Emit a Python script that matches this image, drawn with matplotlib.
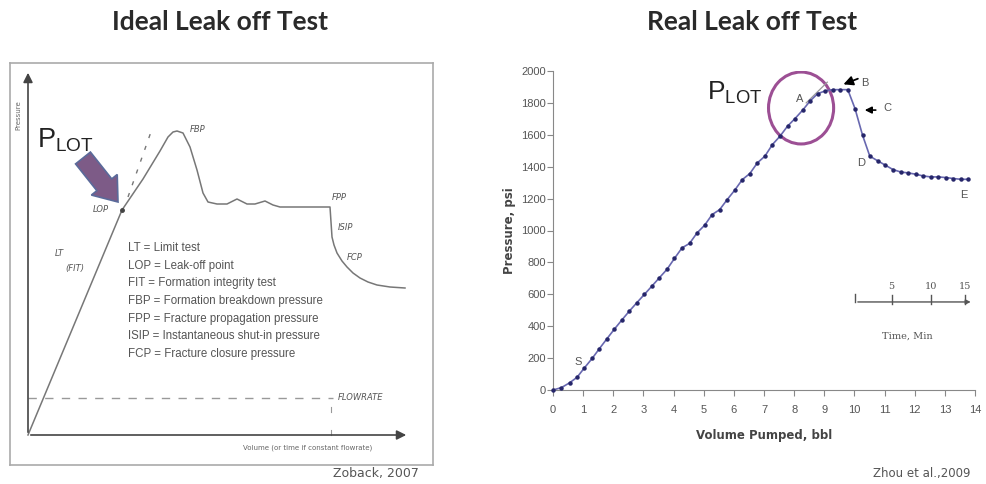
import matplotlib.pyplot as plt
from matplotlib.patches import Ellipse, FancyArrow

# ---- ideal (schematic) test, arbitrary units ----
ideal_vol = [0, 94, 115, 132, 140, 145, 149, 155, 162, 169, 175, 180, 189, 199, 209, 219,
             227, 237, 245, 252, 302, 304, 306, 309, 314, 319, 325, 332, 340, 349, 362, 377]
ideal_p = [0, 225, 256, 284, 298, 303, 304, 302, 288, 265, 242, 233, 231, 231, 236, 231,
           231, 234, 230, 228, 228, 198, 190, 182, 174, 168, 162, 157, 153, 150, 148, 147]
tangent_vol = [100, 124]
tangent_p = [238, 306]
flow_vol = [0, 305]
flow_p = [37, 37]
lop = (94, 225)

legend_lines = ["LT = Limit test",
                "LOP = Leak-off point",
                "FIT = Formation integrity test",
                "FBP = Formation breakdown pressure",
                "FPP = Fracture propagation pressure",
                "ISIP = Instantaneous shut-in pressure",
                "FCP = Fracture closure pressure"]

# ---- real test (Zhou et al., 2009) ----
vol = [0, 0.28, 0.55, 0.8, 1.03, 1.3, 1.53, 1.78, 2.03, 2.28, 2.53, 2.78, 3.03, 3.28,
       3.53, 3.78, 4.03, 4.28, 4.53, 4.78, 5.03, 5.28, 5.53, 5.78, 6.03, 6.28, 6.53,
       6.78, 7.03, 7.28, 7.53, 7.78, 8.03, 8.28, 8.53, 8.78, 9.03, 9.28, 9.53, 9.78,
       10.02, 10.27, 10.51, 10.78, 11.03, 11.28, 11.53, 11.78, 12.03, 12.28, 12.53,
       12.78, 13.03, 13.28, 13.53, 13.78]
pressure = [0, 15, 45, 80, 136, 198, 257, 319, 380, 438, 494, 547, 599, 651, 704, 756,
            825, 891, 919, 985, 1033, 1100, 1131, 1194, 1253, 1319, 1357, 1424, 1466,
            1539, 1591, 1654, 1702, 1754, 1812, 1858, 1875, 1883, 1883, 1883, 1764,
            1597, 1466, 1436, 1409, 1382, 1367, 1361, 1353, 1342, 1336, 1336, 1332,
            1326, 1321, 1321]
tan_vol = [8.4, 9.1]
tan_p = [1800, 1930]

time_labels = ["5", "10", "15"]
time_pos = [11.23, 12.53, 13.67]

fig = plt.figure(figsize=(9.87, 4.84), dpi=100)
W, H = 987, 484


def box(x0, y0, x1, y1):
    return [x0 / W, 1 - y1 / H, (x1 - x0) / W, (y1 - y0) / H]


grey = '#666666'

# ================= left panel =================
ax1 = fig.add_axes(box(10, 63, 433, 465))
ax1.set_xlim(-18, 405)
ax1.set_ylim(-30, 372)
ax1.set_xticks([])
ax1.set_yticks([])
for s in ax1.spines.values():
    s.set_color('#aaaaaa')
    s.set_linewidth(1.2)

ax1.annotate('', xy=(0, 365), xytext=(0, 0),
             arrowprops=dict(arrowstyle='-|>', color='#444444', lw=1.2, mutation_scale=14))
ax1.annotate('', xy=(381, 0), xytext=(0, 0),
             arrowprops=dict(arrowstyle='-|>', color='#444444', lw=1.2, mutation_scale=14))

ax1.plot(ideal_vol, ideal_p, color='#777777', lw=1.1)
ax1.plot(*lop, marker='o', markersize=2.5, color='#444444')
ax1.plot(tangent_vol, tangent_p, color='#777777', lw=1.0, ls=(0, (3, 6)))
ax1.plot(flow_vol, flow_p, color='#999999', lw=1.0, ls=(0, (6, 6)))
ax1.plot([303, 303], [23, 28], color='#999999', lw=0.8)
ax1.plot([303, 303], [0, 5], color='#999999', lw=0.8)

ax1.add_patch(FancyArrow(55, 277, 35, -44, width=19, head_width=33, head_length=22,
                         length_includes_head=True, facecolor='#7d5b87',
                         edgecolor='#5a6a9a', lw=1.2))

ax1.text(9, 295, r'$\mathregular{P_{LOT}}$', fontsize=19.5, color='#222222',
         va='center', family='Liberation Sans')
ax1.text(-10, 320, 'Pressure', rotation=90, fontsize=5, color=grey, ha='center', va='center')

lab = dict(fontsize=6, style='italic', color='#555555', va='center')
ax1.text(162, 306, 'FBP', ha='left', **lab)
ax1.text(73, 226, 'LOP', ha='center', **lab)
ax1.text(27, 181, 'LT', ha='left', **lab)
ax1.text(47, 167, '(FIT)', ha='center', **lab)
ax1.text(304, 238, 'FPP', ha='left', **lab)
ax1.text(310, 207, 'ISIP', ha='left', **lab)
ax1.text(319, 178, 'FCP', ha='left', **lab)
ax1.text(310, 37, 'FLOWRATE', ha='left', **lab)

for i, line in enumerate(legend_lines):
    ax1.text(100, 187 - i * 17.7, line, fontsize=8.3, color='#555555', va='center',
             family='Liberation Sans')

ax1.text(280, -13, 'Volume (or time if constant flowrate)', fontsize=5, color=grey,
         ha='center', va='center')

# ================= right panel =================
ax2 = fig.add_axes(box(553, 71, 975, 390))
ax2.plot(vol, pressure, color='#6868b0', lw=1.2, marker='o', markersize=2.2,
         markerfacecolor='#26266a', markeredgecolor='#26266a', clip_on=False, zorder=3)
ax2.plot(tan_vol, tan_p, color='#999999', lw=0.9)
ax2.set_xlim(0, 14)
ax2.set_ylim(0, 2000)
ax2.set_xticks(range(0, 15))
ax2.set_yticks(range(0, 2001, 200))
for s in ['top', 'right']:
    ax2.spines[s].set_visible(False)
for s in ['left', 'bottom']:
    ax2.spines[s].set_color('#888888')
ax2.tick_params(axis='both', colors='#888888', labelcolor='#555555', labelsize=8, length=4)
ax2.tick_params(axis='x', pad=7)
ax2.tick_params(axis='y', pad=1)
for t in ax2.get_xticklabels() + ax2.get_yticklabels():
    t.set_family('Liberation Sans')
ax2.set_ylabel('Pressure, psi', fontsize=8.5, fontweight='bold', color='#444444', labelpad=4)
ax2.set_xlabel('Volume Pumped, bbl', fontsize=8.5, fontweight='bold', color='#444444',
               labelpad=10)

ax2.add_patch(Ellipse((8.23, 1768), 2.16, 451, fill=False, edgecolor='#9c4f94', lw=2.2))
ax2.text(5.1, 1862, r'$\mathregular{P_{LOT}}$', fontsize=19, color='#222222',
         va='center', family='Liberation Sans')

pt = dict(fontsize=8, color='#555555', ha='center', va='center', family='Liberation Sans')
ax2.text(8.2, 1825, 'A', **pt)
ax2.text(10.35, 1925, 'B', **pt)
ax2.text(11.08, 1765, 'C', **pt)
ax2.text(10.22, 1423, 'D', **pt)
ax2.text(13.64, 1223, 'E', **pt)
ax2.text(0.83, 176, 'S', **pt)

ax2.annotate('', xy=(9.55, 1910), xytext=(10.2, 1958),
             arrowprops=dict(arrowstyle='-|>', color='black', lw=1.3, mutation_scale=14))
ax2.annotate('', xy=(10.25, 1755), xytext=(10.8, 1755),
             arrowprops=dict(arrowstyle='-|>', color='black', lw=1.2, mutation_scale=10))

# time scale inset
ax2.annotate('', xy=(13.95, 552), xytext=(10.02, 552),
             arrowprops=dict(arrowstyle='-|>', color='#555555', lw=1.0, mutation_scale=7))
ax2.plot([10.02, 10.02], [552, 600], color='#555555', lw=1.0)
for p_, l_ in zip(time_pos, time_labels):
    ax2.plot([p_, p_], [540, 595], color='#555555', lw=1.0)
    ax2.text(p_, 650, l_, fontsize=7, family='DejaVu Serif', color='#555555',
             ha='center', va='center')
ax2.text(11.75, 339, 'Time, Min', fontsize=7, family='DejaVu Serif', color='#555555',
         ha='center', va='center')

# ================= titles and sources =================
fig.text(220 / W, 1 - 22 / H, 'Ideal Leak off Test', fontsize=19, color='#2a2a2a',
         ha='center', va='center', family='Lato', fontweight='bold')
fig.text(752 / W, 1 - 22 / H, 'Real Leak off Test', fontsize=19, color='#2a2a2a',
         ha='center', va='center', family='Lato', fontweight='bold')
fig.text(376 / W, 1 - 473 / H, 'Zoback, 2007', fontsize=9, color='#555555',
         ha='center', va='center')
fig.text(922 / W, 1 - 473 / H, 'Zhou et al.,2009', fontsize=8.5, color='#555555',
         ha='center', va='center')

fig.savefig('out.png', dpi=100)
